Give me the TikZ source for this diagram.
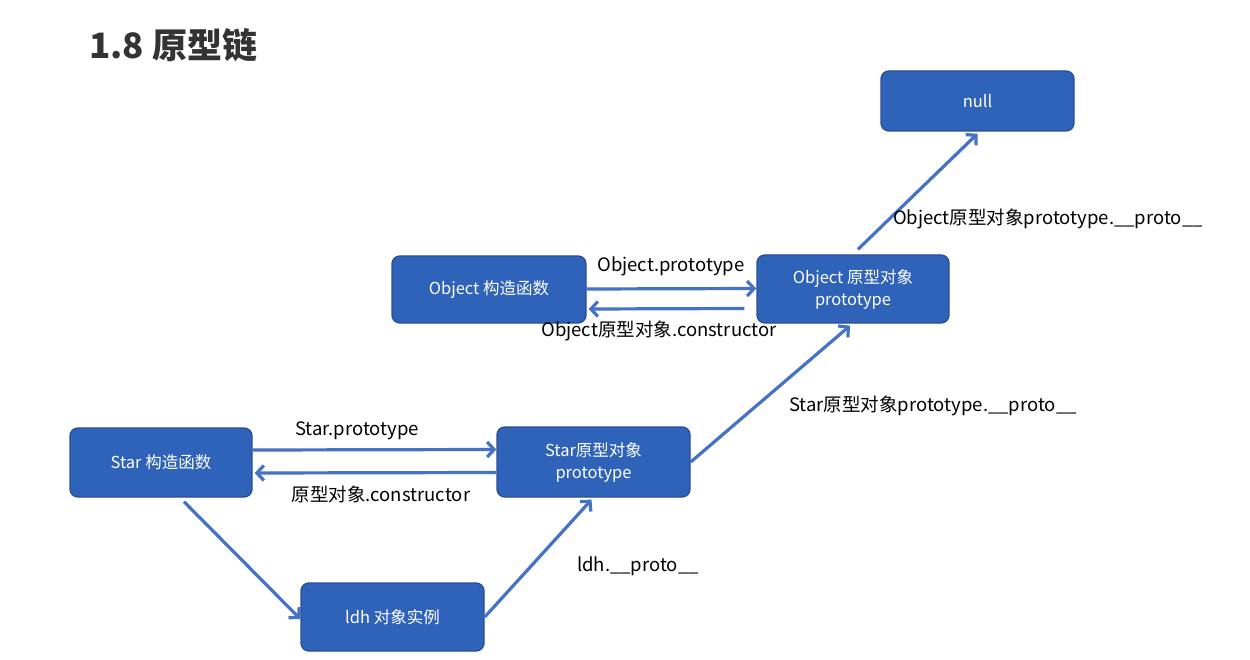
\documentclass[tikz,border=0pt]{standalone}
\usepackage{fontspec}
\setmainfont{Noto Sans CJK SC}
\usetikzlibrary{arrows.meta}
\definecolor{boxfill}{HTML}{2F63BA}
\definecolor{boxdraw}{HTML}{2A4F94}
\definecolor{arr}{HTML}{4472C4}
\definecolor{ttl}{HTML}{333333}
\tikzset{
  box/.style={draw=boxdraw, line width=1.4pt, fill=boxfill, rounded corners=8pt,
    text=white, font=\fontsize{16.5}{22}\selectfont, align=center, inner sep=0pt},
  lbl/.style={font=\fontsize{18.5}{22}\selectfont, text=black, inner sep=0pt},
  conn/.style={draw=arr, line width=3.2pt,
    -{Straight Barb[length=7pt,width=15pt]}},
}
\begin{document}
\begin{tikzpicture}[x=1pt,y=-1pt]
\useasboundingbox[fill=white] (0,0) rectangle (1250,660);
\node[font=\fontsize{35}{40}\bfseries\selectfont, text=ttl, anchor=west, inner sep=0pt] (title) at (89,45) {1.8 原型链};

\node[box, minimum width=193pt, minimum height=60pt] (null) at (977.5,101) {null};
\node[box, minimum width=194pt, minimum height=67pt] (oc) at (489,289.5) {Object 构造函数};
\node[box, minimum width=192pt, minimum height=68pt] (op) at (853,289) {Object 原型对象\\prototype};
\node[box, minimum width=182pt, minimum height=69pt] (sc) at (161,462.5) {Star 构造函数};
\node[box, minimum width=193pt, minimum height=70pt] (sp) at (593.5,462) {Star原型对象\\prototype};
\node[box, minimum width=183pt, minimum height=68pt] (ldh) at (392.5,617) {ldh 对象实例};

% Object constructor <-> prototype
\draw[conn] ([yshift=0.5pt]oc.east) -- ([yshift=0.5pt]op.west);
\draw[conn] ([xshift=-12pt,yshift=-19.5pt]op.west) -- ([xshift=2pt,yshift=-19.5pt]oc.east);
\node[lbl] (l1) at (671,266) {Object.prototype};
\node[lbl] (l2) at (659,331) {Object原型对象.constructor};

% Star constructor <-> prototype
\draw[conn] ([yshift=12.5pt]sc.east) -- ([yshift=12.5pt]sp.west);
\draw[conn] ([yshift=-10.5pt]sp.west) -- ([xshift=2pt,yshift=-10.5pt]sc.east);
\node[lbl] (l3) at (357,431) {Star.prototype};
\node[lbl] (l4) at (381,494) {原型对象.constructor};

% chain
\draw[conn] ([xshift=23pt,yshift=-4pt]sc.south) -- ([yshift=-2pt]ldh.west);
\draw[conn] (ldh.east) -- ([xshift=-2pt,yshift=-2pt]sp.south);
\draw[conn] (sp.east) -- ([xshift=-3pt,yshift=-2pt]op.south);
\draw[conn] ([xshift=5pt,yshift=5pt]op.north) -- ([yshift=-2pt]null.south);
\node[lbl] (l5) at (638,566) {ldh.\_\_proto\_\_};
\node[lbl] (l6) at (933,406) {Star原型对象prototype.\_\_proto\_\_};
\node[lbl] (l7) at (1048,219) {Object原型对象prototype.\_\_proto\_\_};
\end{tikzpicture}
\end{document}
